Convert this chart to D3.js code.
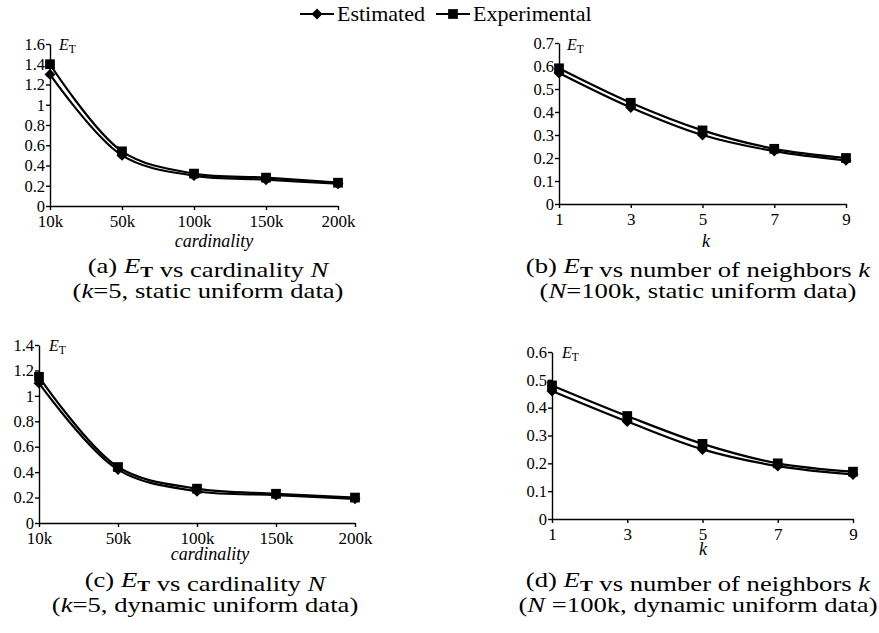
<!DOCTYPE html>
<html lang="en">
<head>
<meta charset="UTF-8">
<title>E_T vs cardinality and k</title>
<style>
  body { margin: 0; background: #fff; }
  text { font-family: "Liberation Serif", "Times New Roman", serif; fill: #000; }
</style>
</head>
<body>
<svg id="svg" width="879" height="633"></svg>
<script src="https://cdn.jsdelivr.net/npm/d3@7"></script>
<script>
// categories
const cardinality = ['10k', '50k', '100k', '150k', '200k']
const neighbors = ['1', '3', '5', '7', '9']

// series values
const estimatedA = [1.30, 0.50, 0.30, 0.26, 0.22]
const experimentalA = [1.40, 0.54, 0.32, 0.28, 0.23]
const estimatedB = [0.57, 0.42, 0.30, 0.23, 0.19]
const experimentalB = [0.59, 0.44, 0.32, 0.24, 0.20]
const estimatedC = [1.10, 0.42, 0.25, 0.22, 0.19]
const experimentalC = [1.15, 0.44, 0.27, 0.23, 0.20]
const estimatedD = [0.46, 0.35, 0.25, 0.19, 0.16]
const experimentalD = [0.48, 0.37, 0.27, 0.20, 0.17]

// tick labels
const yTicksA = [0, 0.2, 0.4, 0.6, 0.8, 1, 1.2, 1.4, 1.6]
const yTicksB = [0, 0.1, 0.2, 0.3, 0.4, 0.5, 0.6, 0.7]
const yTicksC = [0, 0.2, 0.4, 0.6, 0.8, 1, 1.2, 1.4]
const yTicksD = [0, 0.1, 0.2, 0.3, 0.4, 0.5, 0.6]

const seriesNames = ['Estimated', 'Experimental']

const panels = [
  { cats: cardinality, est: estimatedA, exp: experimentalA, ticks: yTicksA,
    x: [50, 338], y: [206, 44], xTitle: 'cardinality', titleX: 214, titleY: 247,
    etX: 59, etY: 50, capX: 208, capY: 273,
    cap: ['(a) ', 'vs cardinality ', 'N'], sub: ['(', 'k', '=5, static uniform data)'] },
  { cats: neighbors, est: estimatedB, exp: experimentalB, ticks: yTicksB,
    x: [559, 846], y: [204, 43], xTitle: 'k', titleX: 706, titleY: 247,
    etX: 567, etY: 50, capX: 698, capY: 273,
    cap: ['(b) ', 'vs number of neighbors ', 'k'], sub: ['(', 'N', '=100k, static uniform data)'] },
  { cats: cardinality, est: estimatedC, exp: experimentalC, ticks: yTicksC,
    x: [39, 355], y: [523, 345], xTitle: 'cardinality', titleX: 210, titleY: 560,
    etX: 49, etY: 351, capX: 205, capY: 587,
    cap: ['(c) ', 'vs cardinality ', 'N'], sub: ['(', 'k', '=5, dynamic uniform data)'] },
  { cats: neighbors, est: estimatedD, exp: experimentalD, ticks: yTicksD,
    x: [552, 853], y: [519, 352], xTitle: 'k', titleX: 703, titleY: 555,
    etX: 562, etY: 358, capX: 698, capY: 587,
    cap: ['(d) ', 'vs number of neighbors ', 'k'], sub: ['(', 'N', ' =100k, dynamic uniform data)'] }
]

const serif = '"Liberation Serif", "Times New Roman", serif'
const svg = d3.select('#svg')
const fmt = d => String(+d.toFixed(1))

function marker(g, kind, cx, cy) {
  if (kind === 0) {
    g.append('path')
      .attr('d', d3.symbol(d3.symbolSquare, 60)())
      .attr('transform', `translate(${cx},${cy}) rotate(45)`)
      .attr('fill', '#000')
  } else {
    g.append('path')
      .attr('d', d3.symbol(d3.symbolSquare, 95)())
      .attr('transform', `translate(${cx},${cy})`)
      .attr('fill', '#000')
  }
}

// E with subscript T
function addET(t, size, bold) {
  t.append('tspan').attr('font-style', 'italic').text('E')
  t.append('tspan').attr('font-size', size * 0.72).attr('font-weight', bold ? 'bold' : 'normal')
    .attr('dy', size * 0.2).text('T')
  t.append('tspan').attr('dy', -size * 0.2).text('')
}

panels.forEach(p => {
  const g = svg.append('g')
  const xscale = d3.scalePoint().domain(p.cats).range(p.x)
  const yscale = d3.scaleLinear().domain([0, d3.max(p.ticks)]).range(p.y)

  // left axis
  const leftAxis = d3.axisLeft(yscale)
    .tickValues(p.ticks)
    .tickFormat(fmt)
    .tickSize(4)
    .tickSizeOuter(0)
    .tickPadding(1)
  const ya = g.append('g')
    .attr('transform', `translate(${p.x[0]},0)`)
    .call(leftAxis)
    .attr('font-family', serif)
  ya.selectAll('text').attr('font-size', 16.5)

  // bottom axis
  const bottomAxis = d3.axisBottom(xscale)
    .tickSize(4)
    .tickSizeOuter(0)
    .tickPadding(5)
  const xa = g.append('g')
    .attr('transform', `translate(0,${p.y[0]})`)
    .call(bottomAxis)
    .attr('font-family', serif)
  xa.selectAll('text').attr('font-size', 17)

  g.selectAll('.domain, .tick line').attr('stroke', '#000').attr('stroke-width', 1.4)

  // axis titles
  g.append('text')
    .attr('x', p.titleX).attr('y', p.titleY)
    .attr('text-anchor', 'middle')
    .attr('font-size', 18).attr('font-style', 'italic')
    .text(p.xTitle)

  const et = g.append('text').attr('x', p.etX).attr('y', p.etY).attr('font-size', 16)
  addET(et, 16, false)

  // lines
  const line = d3.line()
    .x((d, i) => xscale(p.cats[i]))
    .y(d => yscale(d))
    .curve(d3.curveCatmullRom.alpha(0.5))

  ;[p.est, p.exp].forEach((vals, s) => {
    g.append('path')
      .attr('d', line(vals))
      .attr('fill', 'none')
      .attr('stroke', '#000')
      .attr('stroke-width', 2.2)
    vals.forEach((v, i) => marker(g, s, xscale(p.cats[i]), yscale(v)))
  })

  // caption, stretched horizontally like the source figure
  const cap = g.append('g').attr('transform', `translate(${p.capX},${p.capY}) scale(1.3,1)`)
  const c1 = cap.append('text')
    .attr('x', 0).attr('y', 0)
    .attr('text-anchor', 'middle').attr('font-size', 20.5)
  c1.append('tspan').text(p.cap[0])
  addET(c1, 20.5, true)
  c1.append('tspan').text(' ' + p.cap[1])
  c1.append('tspan').attr('font-style', 'italic').text(p.cap[2])

  const c2 = cap.append('text')
    .attr('x', 0).attr('y', 25)
    .attr('text-anchor', 'middle').attr('font-size', 20.5)
  c2.append('tspan').text(p.sub[0])
  c2.append('tspan').attr('font-style', 'italic').text(p.sub[1])
  c2.append('tspan').text(p.sub[2])
})

// legend
const legend = svg.append('g').attr('transform', 'translate(300,14)')
const legendX = [0, 136]
seriesNames.forEach((name, s) => {
  const lg = legend.append('g').attr('transform', `translate(${legendX[s]},0)`)
  lg.append('line').attr('x1', 0).attr('x2', 34).attr('y1', 0).attr('y2', 0)
    .attr('stroke', '#000').attr('stroke-width', 2)
  marker(lg, s, 17, 0)
  lg.append('text').attr('x', 37).attr('y', 7).attr('font-size', 22).text(name)
})

svg.selectAll('text').style('font-family', serif)
</script>
</body>
</html>
